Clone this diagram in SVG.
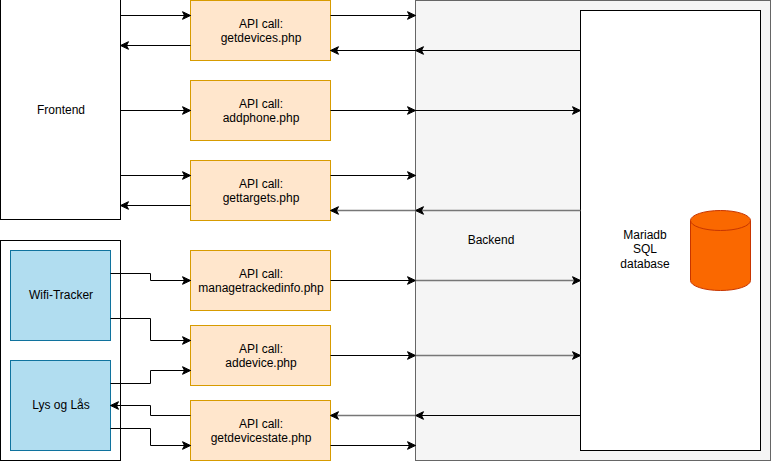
<svg xmlns="http://www.w3.org/2000/svg" width="771" height="461" viewBox="0 0 771 461">
<style>
text{font-family:"Liberation Sans",Arial,sans-serif;font-size:12px;fill:#000;text-anchor:middle}
.plain{fill:#fff;stroke:#000;stroke-width:1}
.api{fill:#ffe6cc;stroke:#d79b00;stroke-width:1}
.dev{fill:#b1ddf0;stroke:#10739e;stroke-width:1}
.e{fill:none;stroke:#000;stroke-width:1;marker-end:url(#arr)}
.g{fill:none;stroke:#777;stroke-width:1.5;marker-end:url(#arr)}
</style>
<defs>
<marker id="arr" markerUnits="userSpaceOnUse" markerWidth="10" markerHeight="10" viewBox="0 0 10 10" refX="9" refY="5" orient="auto">
<path d="M1,1.2 L9,5 L1,8.8 L3,5 Z" fill="#000" stroke="#000" stroke-width="1"/>
</marker>
</defs>
<g id="backend">
<rect x="415.5" y="0.5" width="355" height="460" fill="#f5f5f5" stroke="#666666"/>
<text x="491" y="244">Backend</text>
</g>
<g id="database">
<rect x="580.5" y="10.5" width="180" height="440" class="plain"/>
<text x="645" y="239">Mariadb</text>
<text x="645" y="253">SQL</text>
<text x="645" y="268">database</text>
<path d="M690.5,220.5 A30,10 0 0 1 750.5,220.5 L750.5,280.5 A30,10 0 0 1 690.5,280.5 Z" fill="#fa6800" stroke="#c73500"/>
<path d="M690.5,220.5 A30,10 0 0 0 750.5,220.5" fill="none" stroke="#c73500"/>
</g>
<g id="frontend">
<rect x="0.5" y="-0.5" width="120" height="220" class="plain"/>
<text x="61" y="114">Frontend</text>
</g>
<g id="devices-group">
<rect x="0.5" y="240.5" width="120" height="220" class="plain"/>
</g>
<g id="wifi-tracker">
<rect x="10.5" y="250.5" width="100" height="90" class="dev"/>
<text x="61" y="299">Wifi-Tracker</text>
</g>
<g id="lys-og-las">
<rect x="10.5" y="360.5" width="100" height="90" class="dev"/>
<text x="61" y="409">Lys og Lås</text>
</g>
<g id="api-getdevices">
<rect x="190.5" y="0.5" width="140" height="60" class="api"/>
<text x="261" y="27.5">API call:</text><text x="261" y="41.5">getdevices.php</text>
</g>
<g id="api-addphone">
<rect x="190.5" y="80.5" width="140" height="60" class="api"/>
<text x="261" y="107.5">API call:</text><text x="261" y="121.5">addphone.php</text>
</g>
<g id="api-gettargets">
<rect x="190.5" y="160.5" width="140" height="60" class="api"/>
<text x="261" y="187.5">API call:</text><text x="261" y="201.5">gettargets.php</text>
</g>
<g id="api-managetrackedinfo">
<rect x="190.5" y="250.5" width="140" height="60" class="api"/>
<text x="261" y="277.5">API call:</text><text x="261" y="291.5">managetrackedinfo.php</text>
</g>
<g id="api-addevice">
<rect x="190.5" y="325.5" width="140" height="60" class="api"/>
<text x="261" y="352.5">API call:</text><text x="261" y="366.5">addevice.php</text>
</g>
<g id="api-getdevicestate">
<rect x="190.5" y="400.5" width="140" height="60" class="api"/>
<text x="261" y="427.5">API call:</text><text x="261" y="441.5">getdevicestate.php</text>
</g>
<g id="connectors">
<path class="e" d="M120.5,15.5 H190.5"/>
<path class="e" d="M190.5,45.5 H120.5"/>
<path class="e" d="M330.5,15.5 H415.5"/>
<path class="e" d="M580.5,50.5 H415.5"/>
<path class="e" d="M415.5,50.5 H330.5"/>
<path class="e" d="M120.5,110.5 H190.5"/>
<path class="e" d="M330.5,110.5 H415.5"/>
<path class="e" d="M415.5,110.5 H580.5"/>
<path class="e" d="M120.5,175.5 H190.5"/>
<path class="e" d="M190.5,205.5 H120.5"/>
<path class="e" d="M330.5,175.5 H415.5"/>
<path class="g" d="M580.5,210.5 H415.5"/>
<path class="g" d="M415.5,210.5 H330.5"/>
<path class="e" d="M110.5,273.5 H150.5 V280.5 H190.5"/>
<path class="e" d="M330.5,280.5 H415.5"/>
<path class="g" d="M415.5,280.5 H580.5"/>
<path class="e" d="M110.5,318.5 H150.5 V340.5 H190.5"/>
<path class="e" d="M110.5,383.5 H150.5 V370.5 H190.5"/>
<path class="e" d="M330.5,355.5 H415.5"/>
<path class="g" d="M415.5,355.5 H580.5"/>
<path class="e" d="M190.5,415.5 H150.5 V405.5 H110.5"/>
<path class="e" d="M110.5,428.5 H150.5 V445.5 H190.5"/>
<path class="e" d="M330.5,445.5 H415.5"/>
<path class="e" d="M580.5,415.5 H415.5"/>
<path class="g" d="M415.5,415.5 H330.5"/>
</g>
</svg>
